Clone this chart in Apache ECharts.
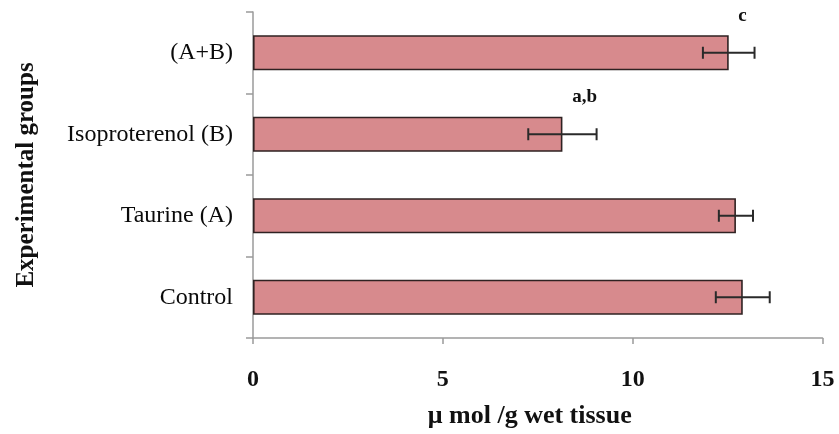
<!DOCTYPE html>
<html>
<head>
<meta charset="utf-8">
<script src="https://cdn.jsdelivr.net/npm/echarts@6/dist/echarts.min.js"></script>
<style>
  html, body { margin: 0; padding: 0; background: #ffffff; }
  #chart { width: 839px; height: 434px; }
</style>
</head>
<body>
<div id="chart"></div>
<script>
// Groups, listed bottom to top on the category axis
var groups = ['Control', 'Taurine (A)', 'Isoproterenol (B)', '(A+B)'];
// Mean content (µmol/g wet tissue)
var means = [12.9, 12.72, 8.15, 12.53];
// Standard deviation for each group
var sds = [0.71, 0.45, 0.9, 0.68];
// Significance letters shown above the error bars
var sigLetters = ['', '', 'a,b', 'c'];
// Value axis ticks
var xTicks = [0, 5, 10, 15];

var serif = '"Liberation Serif", "Times New Roman", serif';
var axisGrey = '#9a9a9a';

var errData = groups.map(function (g, i) {
  return [i, means[i] - sds[i], means[i] + sds[i], sigLetters[i]];
});

var chart = echarts.init(document.getElementById('chart'));
chart.setOption({
  backgroundColor: '#ffffff',
  animation: false,
  grid: { left: 253, right: 16.5, top: 12, bottom: 90 },
  xAxis: {
    type: 'value',
    min: xTicks[0],
    max: xTicks[xTicks.length - 1],
    interval: 5,
    name: 'μ mol /g wet tissue',
    nameLocation: 'middle',
    nameGap: 65,
    nameTextStyle: { fontFamily: serif, fontWeight: 'bold', fontSize: 26, color: '#111', padding: [0, 16, 0, 0] },
    axisLine: { show: true, lineStyle: { color: axisGrey, width: 1.5 } },
    axisTick: { show: true, length: 6, lineStyle: { color: axisGrey, width: 1.5 } },
    axisLabel: { margin: 30, fontFamily: serif, fontWeight: 'bold', fontSize: 24, color: '#111' },
    splitLine: { show: false }
  },
  yAxis: {
    type: 'category',
    data: groups,
    name: 'Experimental groups',
    nameLocation: 'middle',
    nameGap: 214,
    nameRotate: 90,
    nameTextStyle: { fontFamily: serif, fontWeight: 'bold', fontSize: 25, color: '#111' },
    axisLine: { show: true, lineStyle: { color: axisGrey, width: 1.5 } },
    axisTick: { show: true, length: 7, lineStyle: { color: axisGrey, width: 1.5 } },
    axisLabel: { margin: 20, fontFamily: serif, fontSize: 24, color: '#0a0a0a' }
  },
  series: [
    {
      type: 'bar',
      data: means,
      barWidth: 35,
      itemStyle: {
        color: '#d78a8d',
        borderColor: '#2f2222',
        borderWidth: 1.6
      },
      z: 2
    },
    {
      type: 'custom',
      data: errData,
      z: 5,
      renderItem: function (params, api) {
        var idx = api.value(0);
        var lo = api.coord([api.value(1), idx]);
        var hi = api.coord([api.value(2), idx]);
        var cap = 6;
        var style = { stroke: '#2a2a2a', lineWidth: 2 };
        var children = [
          { type: 'line', shape: { x1: lo[0], y1: lo[1], x2: hi[0], y2: hi[1] }, style: style },
          { type: 'line', shape: { x1: lo[0], y1: lo[1] - cap, x2: lo[0], y2: lo[1] + cap }, style: style },
          { type: 'line', shape: { x1: hi[0], y1: hi[1] - cap, x2: hi[0], y2: hi[1] + cap }, style: style }
        ];
        var letter = api.value(3);
        if (letter) {
          children.push({
            type: 'text',
            style: {
              text: letter,
              x: hi[0] - 12,
              y: hi[1] - 37,
              align: 'center',
              verticalAlign: 'middle',
              font: 'bold 19px ' + serif,
              fill: '#111'
            }
          });
        }
        return { type: 'group', children: children };
      }
    }
  ]
});
</script>
</body>
</html>
